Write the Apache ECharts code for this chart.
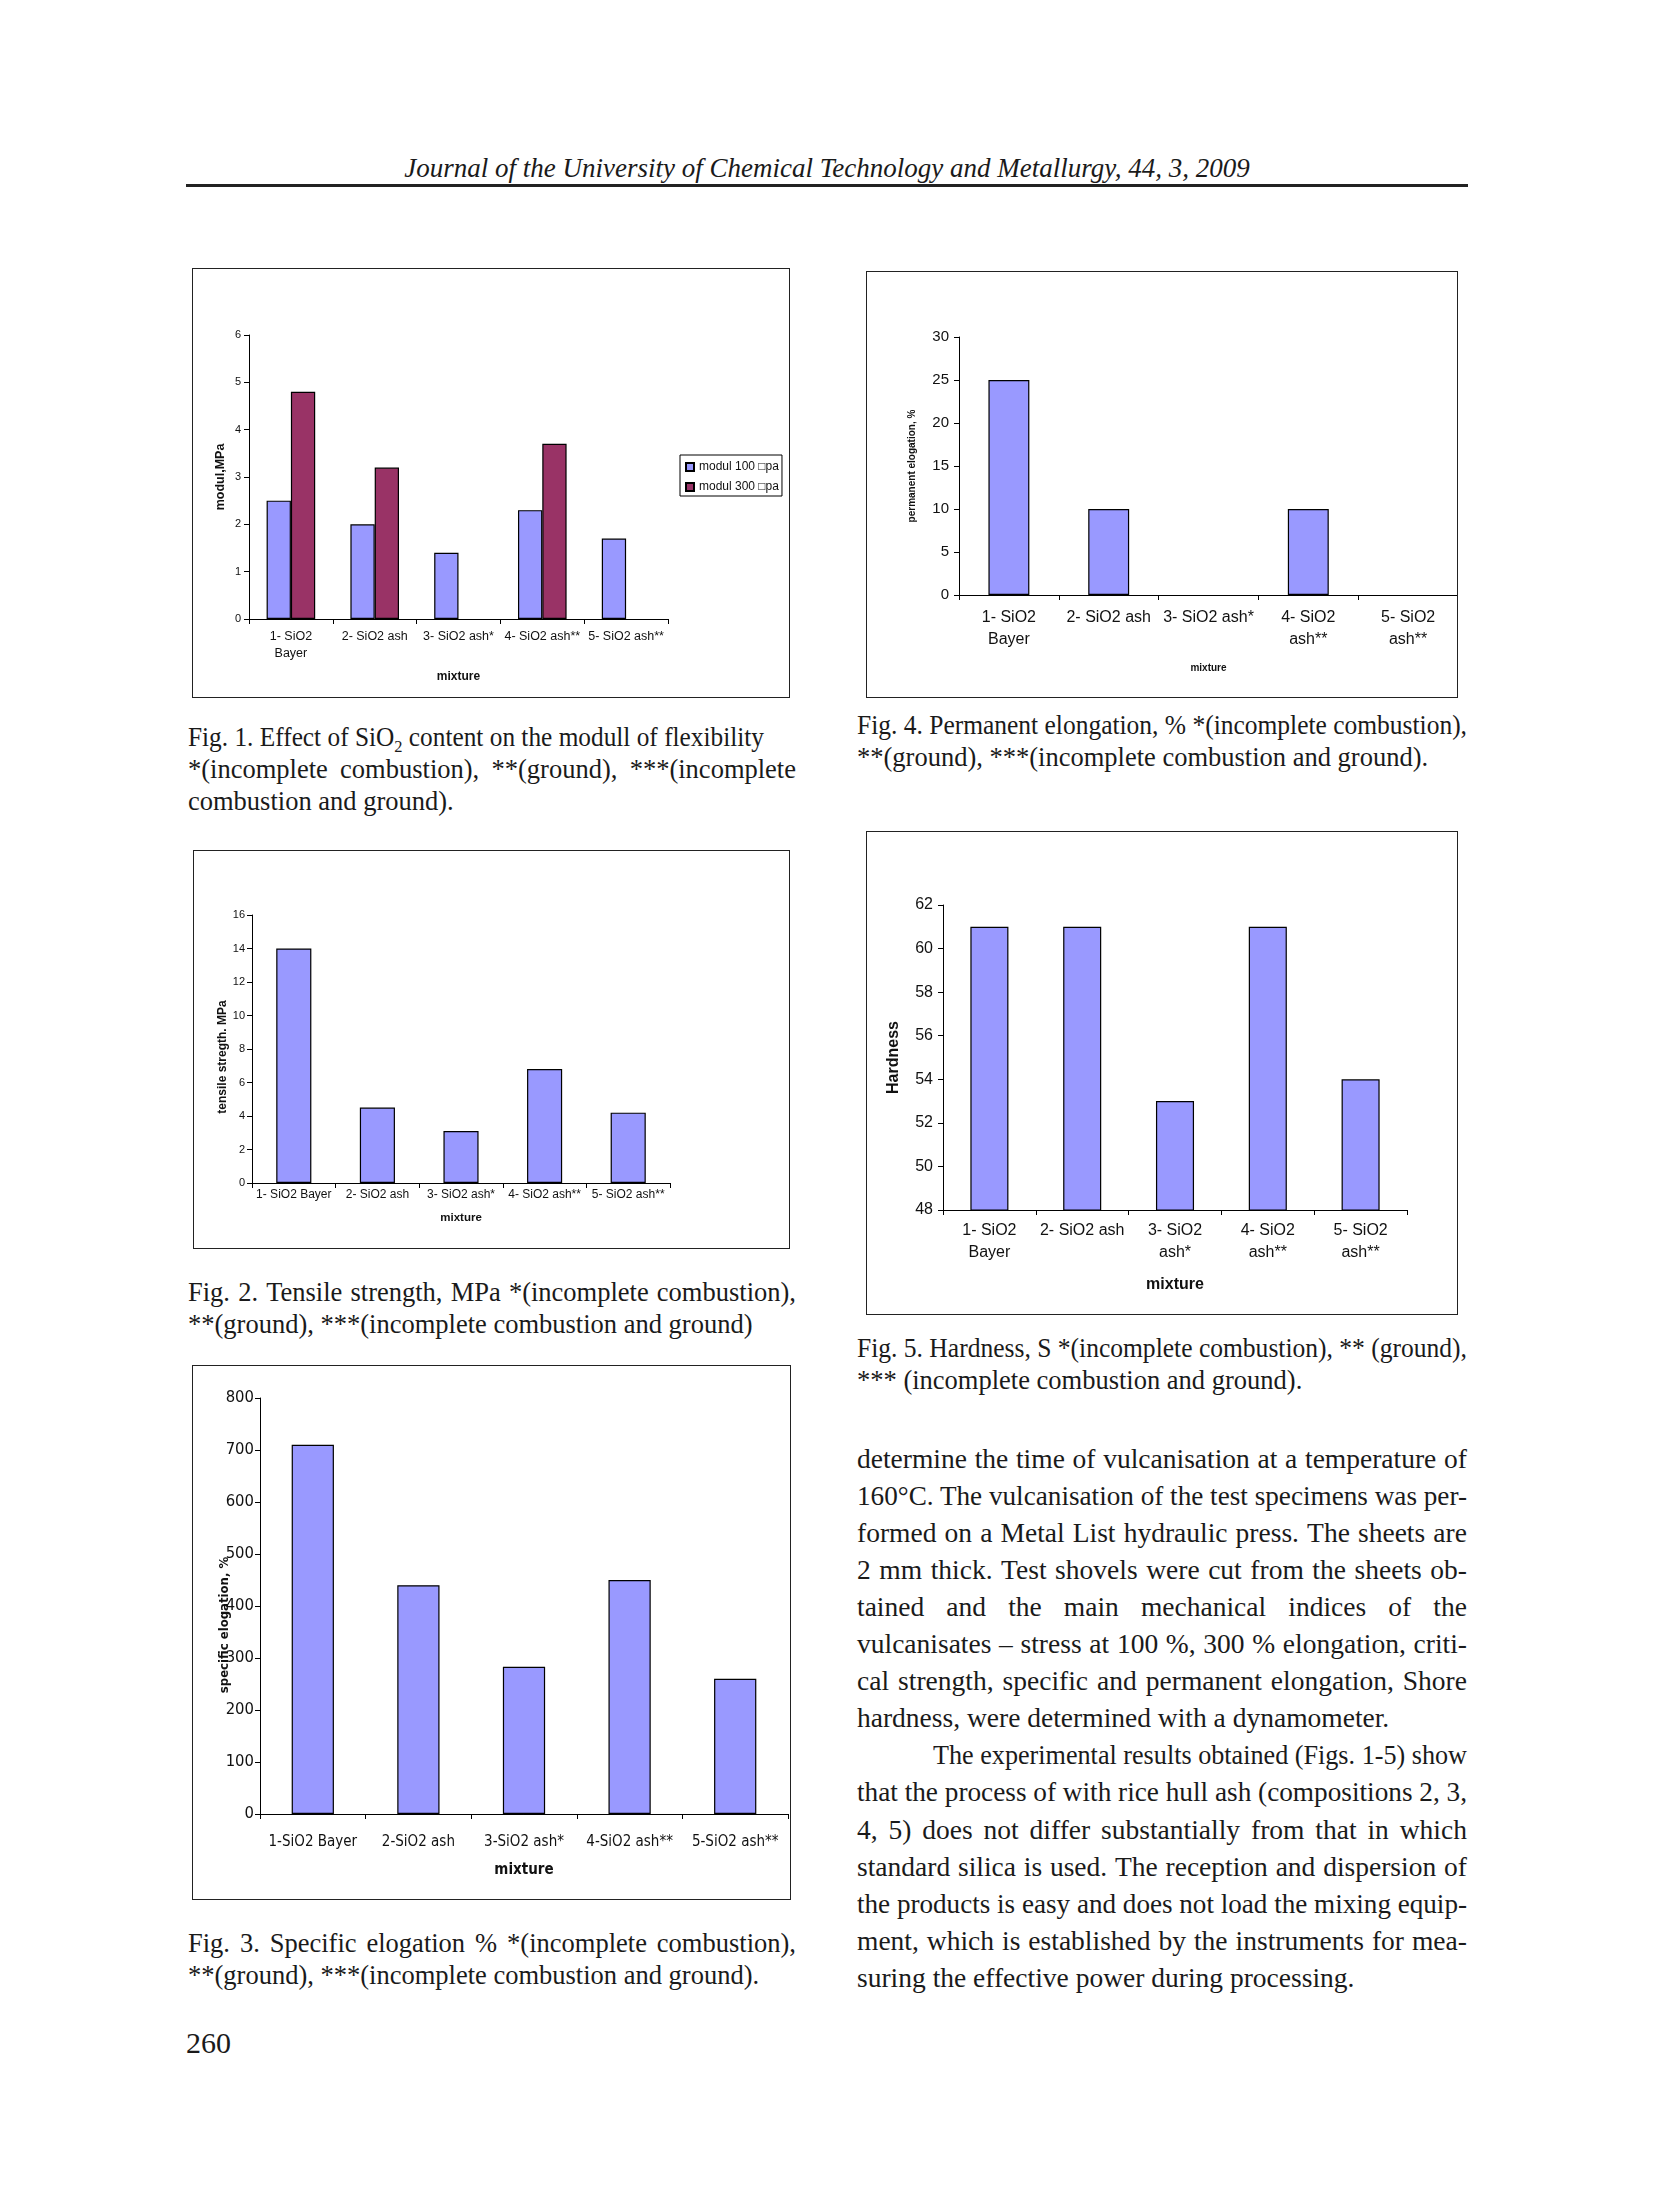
<!DOCTYPE html>
<html><head><meta charset="utf-8">
<script src="https://cdn.jsdelivr.net/npm/echarts@6/dist/echarts.min.js"></script>
<style>
html,body{margin:0;padding:0;background:#fff;}
#page{position:relative;width:1669px;height:2199px;background:#fff;overflow:hidden;color:#1a1a1a;font-family:'Liberation Serif','Times New Roman',serif;}
.line{position:absolute;white-space:nowrap;}
.jline{position:absolute;display:flex;justify-content:space-between;white-space:nowrap;}
.box{position:absolute;border:1.5px solid #222;box-sizing:border-box;pointer-events:none;}
.chart{position:absolute;}
sub{font-size:65%;vertical-align:-0.35em;line-height:0;}
</style></head>
<body><div id="page"></div>
<script>
// ---------- data ----------
const categoriesFig1 = ['1- SiO2\nBayer', '2- SiO2 ash', '3- SiO2 ash*', '4- SiO2 ash**', '5- SiO2 ash**'];
const seriesNamesFig1 = ['modul 100 \u25A1pa', 'modul 300 \u25A1pa'];
const modul100 = [2.5, 2.0, 1.4, 2.3, 1.7];
const modul300 = [4.8, 3.2, null, 3.7, null];
const yAxisFig1 = [0, 6, 1];

const categoriesFig2 = ['1- SiO2 Bayer', '2- SiO2 ash', '3- SiO2 ash*', '4- SiO2 ash**', '5- SiO2 ash**'];
const tensileStrength = [14.0, 4.5, 3.1, 6.8, 4.2];
const yAxisFig2 = [0, 16, 2];

const categoriesFig3 = ['1-SiO2 Bayer', '2-SiO2 ash', '3-SiO2 ash*', '4-SiO2 ash**', '5-SiO2 ash**'];
const specificElongation = [710, 440, 283, 450, 260];
const yAxisFig3 = [0, 800, 100];

const categoriesFig4 = ['1- SiO2\nBayer', '2- SiO2 ash', '3- SiO2 ash*', '4- SiO2\nash**', '5- SiO2\nash**'];
const permanentElongation = [25, 10, null, 10, null];
const yAxisFig4 = [0, 30, 5];

const categoriesFig5 = ['1- SiO2\nBayer', '2- SiO2 ash', '3- SiO2\nash*', '4- SiO2\nash**', '5- SiO2\nash**'];
const hardness = [61, 61, 53, 61, 54];
const yAxisFig5 = [48, 62, 2];

// ---------- page text ----------
const page = document.getElementById('page');
function el(cls, css, html) {
  const d = document.createElement('div');
  d.className = cls;
  d.style.cssText = css;
  if (html !== undefined) d.innerHTML = html;
  page.appendChild(d);
  return d;
}
function textLine(txt, left, cy, width, size, lh, justify, targetW) {
  const top = cy - lh / 2;
  const d = el('line', `left:${left}px;top:${top}px;height:${lh}px;line-height:${lh}px;font-size:${size}px;transform-origin:0 50%;`, txt);
  const nat = d.getBoundingClientRect().width;
  if (justify) {
    if (nat >= width) {
      d.style.transform = `scaleX(${width / nat})`;
    } else {
      d.className = 'jline';
      d.style.width = width + 'px';
      d.innerHTML = '';
      txt.split(' ').forEach(w => { const s = document.createElement('span'); s.innerHTML = w; d.appendChild(s); });
    }
  } else if (targetW) {
    d.style.transform = `scaleX(${targetW / nat})`;
  }
}
// header
el('line', 'left:186px;width:1282px;top:151px;height:34px;line-height:34px;font-size:27px;font-style:italic;text-align:center;',
  'Journal of the University of Chemical Technology and Metallurgy, 44, 3, 2009');
el('line', 'left:186px;top:184px;width:1282px;height:3px;background:#222;');

const CS = 26.5, CL = 32;
// Fig 1 caption
textLine('Fig. 1. Effect of SiO<sub>2</sub> content on the modull of flexibility', 188, 737, 608, CS, CL, false, 576);
textLine('*(incomplete combustion), **(ground), ***(incomplete', 188, 769, 608, CS, CL, true);
textLine('combustion and ground).', 188, 801, 608, CS, CL, false);
// Fig 4 caption
textLine('Fig. 4. Permanent elongation, % *(incomplete combustion),', 857, 725, 610, CS, CL, true);
textLine('**(ground), ***(incomplete combustion and ground).', 857, 757, 610, CS, CL, false);
// Fig 2 caption
textLine('Fig. 2. Tensile strength, MPa *(incomplete combustion),', 188, 1292, 608, CS, CL, true);
textLine('**(ground), ***(incomplete combustion and ground)', 188, 1324, 608, CS, CL, false);
// Fig 5 caption
textLine('Fig. 5. Hardness, S *(incomplete combustion), ** (ground),', 857, 1348, 610, CS, CL, true);
textLine('*** (incomplete combustion and ground).', 857, 1380, 610, CS, CL, false);
// Fig 3 caption
textLine('Fig. 3. Specific elogation % *(incomplete combustion),', 188, 1943, 608, CS, CL, true);
textLine('**(ground), ***(incomplete combustion and ground).', 188, 1975, 608, CS, CL, false);

// body text
const bodyLines = [
  ['determine the time of vulcanisation at a temperature of', true, 0],
  ['160°C. The vulcanisation of the test specimens was per-', true, 0],
  ['formed on a Metal List hydraulic press. The sheets are', true, 0],
  ['2 mm thick. Test shovels were cut from the sheets ob-', true, 0],
  ['tained and the main mechanical indices of the', true, 0],
  ['vulcanisates – stress at 100 %, 300 % elongation, criti-', true, 0],
  ['cal strength, specific and permanent elongation, Shore', true, 0],
  ['hardness, were determined with a dynamometer.', false, 0],
  ['The experimental results obtained (Figs. 1-5) show', true, 76],
  ['that the process of with rice hull ash (compositions 2, 3,', true, 0],
  ['4, 5) does not differ substantially from that in which', true, 0],
  ['standard silica is used. The reception and dispersion of', true, 0],
  ['the products is easy and does not load the mixing equip-', true, 0],
  ['ment, which is established by the instruments for mea-', true, 0],
  ['suring the effective power during processing.', false, 0]
];
bodyLines.forEach((b, i) => {
  textLine(b[0], 857 + b[2], 1458 + i * 37.1, 610 - b[2], 27.5, 37, b[1]);
});
// page number
el('line', 'left:186px;top:2026px;height:34px;line-height:34px;font-size:30px;', '260');

// ---------- charts ----------
const SANS = "'Liberation Sans', Arial, sans-serif";
const NARROW = "'Liberation Sans Narrow', 'DejaVu Sans Condensed', sans-serif";
const BLUE = '#9999FF', PLUM = '#993366';

function makeChart(box, option) {
  const d = el('chart', `left:${box[0]}px;top:${box[1]}px;width:${box[2]}px;height:${box[3]}px;`);
  el('box', `left:${box[0]}px;top:${box[1]}px;width:${box[2]}px;height:${box[3]}px;`);
  const c = echarts.init(d, null, { renderer: 'canvas' });
  c.setOption(option);
  return c;
}
function xAx(cats, f) {
  return {
    type: 'category', data: cats, boundaryGap: true,
    axisLine: { show: true, lineStyle: { color: '#000', width: 1 } },
    axisTick: { show: true, length: 5, alignWithLabel: false, lineStyle: { color: '#000' } },
    axisLabel: { interval: 0, color: '#111', fontFamily: f.family || SANS, fontSize: f.cat, lineHeight: f.catLH, margin: f.catMargin },
    name: 'mixture', nameLocation: 'middle', nameGap: f.xGap, nameMoveOverlap: false,
    nameTextStyle: { color: '#111', fontFamily: f.family || SANS, fontWeight: 'bold', fontSize: f.xName }
  };
}
function yAx(r, name, f) {
  return {
    type: 'value', min: r[0], max: r[1], interval: r[2],
    axisLine: { show: true, lineStyle: { color: '#000', width: 1 } },
    axisTick: { show: true, length: 5, lineStyle: { color: '#000' } },
    splitLine: { show: false },
    axisLabel: { color: '#111', fontFamily: f.family || SANS, fontSize: f.tick, margin: f.tickMargin },
    name: name, nameLocation: 'middle', nameGap: f.yGap, nameRotate: 90, nameMoveOverlap: false,
    nameTextStyle: { color: '#111', fontFamily: f.family || SANS, fontWeight: 'bold', fontSize: f.yName, padding: f.yPad || 0 }
  };
}
function barSeries(name, data, color, gap) {
  return {
    type: 'bar', name: name, data: data, barGap: '0%', barCategoryGap: gap,
    itemStyle: { color: color, borderColor: '#000', borderWidth: 1.2 },
    silent: true
  };
}

// Fig 1
const f1 = { cat: 12.5, catLH: 17, catMargin: 9, xGap: 52, xName: 12, tick: 11, tickMargin: 8, yGap: 22, yName: 12.5 };
makeChart([192, 268, 598, 430], {
  animation: false,
  grid: { left: 57, top: 67, width: 419, height: 284 },
  legend: {
    orient: 'vertical', left: 488, top: 187, itemWidth: 8, itemHeight: 8, itemGap: 8,
    padding: [6, 3, 3, 5], borderColor: '#000', borderWidth: 1,
    icon: 'rect', textStyle: { fontFamily: SANS, fontSize: 12, color: '#111' },
    data: seriesNamesFig1
  },
  xAxis: xAx(categoriesFig1, f1),
  yAxis: yAx(yAxisFig1, 'modul,MPa', f1),
  series: [
    barSeries(seriesNamesFig1[0], modul100, BLUE, '42%'),
    barSeries(seriesNamesFig1[1], modul300, PLUM, '42%')
  ]
});

// Fig 4
const f4 = { cat: 16, catLH: 22, catMargin: 12, xGap: 68, xName: 10, tick: 15, tickMargin: 10, yGap: 42, yName: 10 };
makeChart([866, 271, 592, 427], {
  animation: false,
  grid: { left: 93, top: 66, width: 507, height: 258 },
  xAxis: xAx(categoriesFig4, f4),
  yAxis: yAx(yAxisFig4, 'permanent elogation, %', f4),
  series: [barSeries('permanent elogation', permanentElongation, BLUE, '59%')]
});

// Fig 2
const f2 = { cat: 12, catLH: 14, catMargin: 5, xGap: 29, xName: 11.5, tick: 11, tickMargin: 7, yGap: 23, yName: 12, yPad: [0, 16, 0, 0] };
makeChart([193, 850, 597, 399], {
  animation: false,
  grid: { left: 59, top: 65, width: 418, height: 268 },
  xAxis: xAx(categoriesFig2, f2),
  yAxis: yAx(yAxisFig2, 'tensile stregth. MPa', f2),
  series: [barSeries('tensile strength', tensileStrength, BLUE, '58%')]
});

// Fig 5
const f5 = { cat: 16, catLH: 22, catMargin: 10, xGap: 67, xName: 16, tick: 16, tickMargin: 10, yGap: 41, yName: 16 };
makeChart([866, 831, 592, 484], {
  animation: false,
  grid: { left: 77, top: 74, width: 464, height: 305 },
  xAxis: xAx(categoriesFig5, f5),
  yAxis: yAx(yAxisFig5, 'Hardness', f5),
  series: [barSeries('hardness', hardness, BLUE, '59%')]
});

// Fig 3
const f3 = { family: NARROW, cat: 15, catLH: 18, catMargin: 19, xGap: 49, xName: 15, tick: 16.5, tickMargin: 6, yGap: 29, yName: 13, yPad: [0, 38, 0, 0] };
makeChart([192, 1365, 599, 535], {
  animation: false,
  grid: { left: 68, top: 33, width: 528, height: 416 },
  xAxis: xAx(categoriesFig3, f3),
  yAxis: yAx(yAxisFig3, 'specific elogation, %', f3),
  series: [barSeries('specific elogation', specificElongation, BLUE, '60%')]
});
</script>
</body></html>
